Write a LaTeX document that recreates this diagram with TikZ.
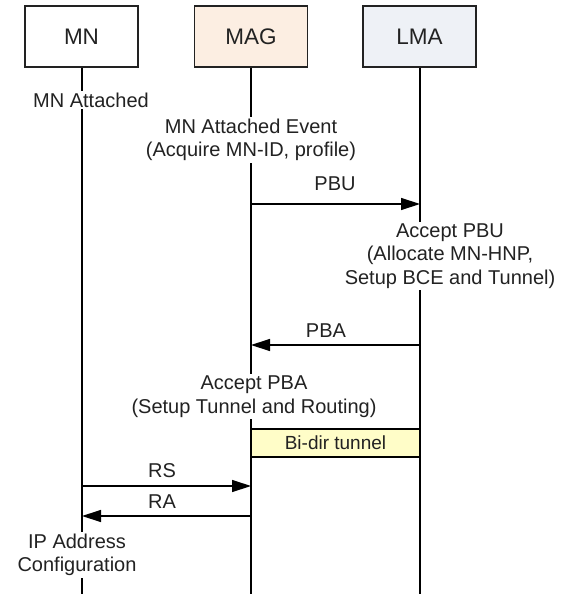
\documentclass[tikz,border=0pt]{standalone}
\usepackage{fontspec}
\setmainfont{Liberation Sans}
\usetikzlibrary{arrows.meta}
\definecolor{magfill}{HTML}{FCEEE2}
\definecolor{lmafill}{HTML}{EEF1F6}
\definecolor{tunnelfill}{HTML}{FFFDC8}
\definecolor{ink}{HTML}{222222}
\begin{document}
\begin{tikzpicture}[x=1pt,y=-1pt,
  entity/.style={draw=ink, line width=1.2pt, minimum width=113pt, minimum height=61pt,
    inner sep=0pt, font=\fontsize{22.5}{27}\selectfont, text=ink},
  lifeline/.style={line width=1.2pt, draw=black},
  note/.style={fill=white, inner sep=2pt, align=center,
    font=\fontsize{20}{23.5}\selectfont, text=ink},
  msglabel/.style={inner sep=0pt, font=\fontsize{20}{23.5}\selectfont, text=ink},
  msg/.style={line width=1.3pt, -{Triangle[length=19pt,width=12pt]}},
  tunnelbox/.style={draw=black, line width=1.2pt, fill=tunnelfill, minimum width=169pt,
    minimum height=28pt, inner sep=0pt, font=\fontsize{19}{22}\selectfont, text=ink},
]
\useasboundingbox (0,0) rectangle (569,596);

% participants
\node[entity] (mn) at (81.5,36.5) {MN};
\node[entity, fill=magfill] (mag) at (251,36.5) {MAG};
\node[entity, fill=lmafill] (lma) at (419.5,36.5) {LMA};

% lifelines
\coordinate (mnend) at (82,594);
\coordinate (magend) at (251,594);
\coordinate (lmaend) at (420,594);
\draw[lifeline] (mn.south -| mnend) -- (mnend);
\draw[lifeline] (mag.south -| magend) -- (magend);
\draw[lifeline] (lma.south -| lmaend) -- (lmaend);

% local events
\node[note] (attached) at (91,100) {MN Attached};
\node[note] (event) at (251,140) {MN Attached Event\\(Acquire MN-ID, profile)};
\node[note] (accpbu) at (450,256) {Accept PBU\\(Allocate MN-HNP,\\Setup BCE and Tunnel)};
\node[note] (accpba) at (254,396.5) {Accept PBA\\(Setup Tunnel and Routing)};
\node[note] (ipconf) at (77,555) {IP Address\\Configuration};

% tunnel between MAG and LMA
\node[tunnelbox] (tunnel) at (335.5,443) {Bi-dir tunnel};

% messages
\coordinate (pbus) at (251,204);  \coordinate (pbue) at (420,204);
\coordinate (pbas) at (420,345);  \coordinate (pbae) at (251,345);
\coordinate (rss) at (82,486);    \coordinate (rse) at (251,486);
\coordinate (ras) at (251,516);   \coordinate (rae) at (82,516);

\draw[msg] (pbus) -- (pbue);
\draw[msg] (pbas) -- (pbae);
\draw[msg] (rss) -- (rse);
\draw[msg] (ras) -- (rae);

\node[msglabel] (pbulabel) at (335,184) {PBU};
\node[msglabel] (pbalabel) at (326,331) {PBA};
\node[msglabel] (rslabel) at (162,471) {RS};
\node[msglabel] (ralabel) at (162,502) {RA};
\end{tikzpicture}
\end{document}
